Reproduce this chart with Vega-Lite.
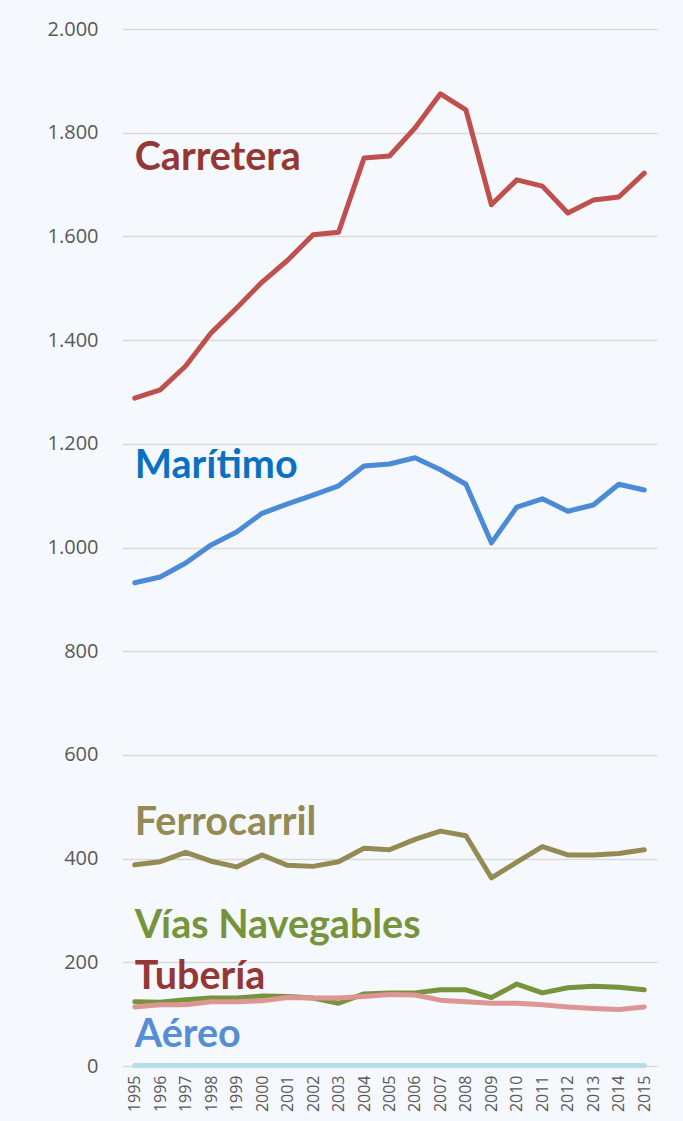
{
  "$schema": "https://vega.github.io/schema/vega-lite/v6.json",
  "autosize": {"type": "none"},
  "padding": {"left": 122, "top": 29, "right": 26, "bottom": 55},
  "width": 535,
  "height": 1037,
  "background": "#f5f8fc",
  "config": {
    "locale": {"number": {"decimal": ",", "thousands": ".", "grouping": [3], "currency": ["", " €"]}},
    "view": {"stroke": null},
    "font": "Open Sans"
  },
  "datasets": {
    "series": [
      {"year": 1995, "mode": "Carretera", "value": 1288},
      {"year": 1996, "mode": "Carretera", "value": 1304},
      {"year": 1997, "mode": "Carretera", "value": 1350},
      {"year": 1998, "mode": "Carretera", "value": 1414},
      {"year": 1999, "mode": "Carretera", "value": 1462},
      {"year": 2000, "mode": "Carretera", "value": 1512},
      {"year": 2001, "mode": "Carretera", "value": 1554},
      {"year": 2002, "mode": "Carretera", "value": 1603},
      {"year": 2003, "mode": "Carretera", "value": 1608},
      {"year": 2004, "mode": "Carretera", "value": 1751},
      {"year": 2005, "mode": "Carretera", "value": 1755},
      {"year": 2006, "mode": "Carretera", "value": 1809},
      {"year": 2007, "mode": "Carretera", "value": 1875},
      {"year": 2008, "mode": "Carretera", "value": 1844},
      {"year": 2009, "mode": "Carretera", "value": 1661},
      {"year": 2010, "mode": "Carretera", "value": 1709},
      {"year": 2011, "mode": "Carretera", "value": 1697},
      {"year": 2012, "mode": "Carretera", "value": 1645},
      {"year": 2013, "mode": "Carretera", "value": 1670},
      {"year": 2014, "mode": "Carretera", "value": 1676},
      {"year": 2015, "mode": "Carretera", "value": 1722},
      {"year": 1995, "mode": "Marítimo", "value": 932},
      {"year": 1996, "mode": "Marítimo", "value": 943},
      {"year": 1997, "mode": "Marítimo", "value": 970},
      {"year": 1998, "mode": "Marítimo", "value": 1005},
      {"year": 1999, "mode": "Marítimo", "value": 1030},
      {"year": 2000, "mode": "Marítimo", "value": 1066},
      {"year": 2001, "mode": "Marítimo", "value": 1084},
      {"year": 2002, "mode": "Marítimo", "value": 1101},
      {"year": 2003, "mode": "Marítimo", "value": 1119},
      {"year": 2004, "mode": "Marítimo", "value": 1157},
      {"year": 2005, "mode": "Marítimo", "value": 1161},
      {"year": 2006, "mode": "Marítimo", "value": 1173},
      {"year": 2007, "mode": "Marítimo", "value": 1150},
      {"year": 2008, "mode": "Marítimo", "value": 1122},
      {"year": 2009, "mode": "Marítimo", "value": 1009},
      {"year": 2010, "mode": "Marítimo", "value": 1078},
      {"year": 2011, "mode": "Marítimo", "value": 1094},
      {"year": 2012, "mode": "Marítimo", "value": 1070},
      {"year": 2013, "mode": "Marítimo", "value": 1082},
      {"year": 2014, "mode": "Marítimo", "value": 1122},
      {"year": 2015, "mode": "Marítimo", "value": 1111},
      {"year": 1995, "mode": "Ferrocarril", "value": 388},
      {"year": 1996, "mode": "Ferrocarril", "value": 394},
      {"year": 1997, "mode": "Ferrocarril", "value": 412},
      {"year": 1998, "mode": "Ferrocarril", "value": 395},
      {"year": 1999, "mode": "Ferrocarril", "value": 384},
      {"year": 2000, "mode": "Ferrocarril", "value": 407},
      {"year": 2001, "mode": "Ferrocarril", "value": 387},
      {"year": 2002, "mode": "Ferrocarril", "value": 385},
      {"year": 2003, "mode": "Ferrocarril", "value": 394},
      {"year": 2004, "mode": "Ferrocarril", "value": 420},
      {"year": 2005, "mode": "Ferrocarril", "value": 417},
      {"year": 2006, "mode": "Ferrocarril", "value": 437},
      {"year": 2007, "mode": "Ferrocarril", "value": 453},
      {"year": 2008, "mode": "Ferrocarril", "value": 444},
      {"year": 2009, "mode": "Ferrocarril", "value": 363},
      {"year": 2010, "mode": "Ferrocarril", "value": 393},
      {"year": 2011, "mode": "Ferrocarril", "value": 423},
      {"year": 2012, "mode": "Ferrocarril", "value": 407},
      {"year": 2013, "mode": "Ferrocarril", "value": 407},
      {"year": 2014, "mode": "Ferrocarril", "value": 410},
      {"year": 2015, "mode": "Ferrocarril", "value": 417},
      {"year": 1995, "mode": "Vías Navegables", "value": 124},
      {"year": 1996, "mode": "Vías Navegables", "value": 123},
      {"year": 1997, "mode": "Vías Navegables", "value": 128},
      {"year": 1998, "mode": "Vías Navegables", "value": 131},
      {"year": 1999, "mode": "Vías Navegables", "value": 131},
      {"year": 2000, "mode": "Vías Navegables", "value": 135},
      {"year": 2001, "mode": "Vías Navegables", "value": 134},
      {"year": 2002, "mode": "Vías Navegables", "value": 131},
      {"year": 2003, "mode": "Vías Navegables", "value": 121},
      {"year": 2004, "mode": "Vías Navegables", "value": 139},
      {"year": 2005, "mode": "Vías Navegables", "value": 141},
      {"year": 2006, "mode": "Vías Navegables", "value": 141},
      {"year": 2007, "mode": "Vías Navegables", "value": 147},
      {"year": 2008, "mode": "Vías Navegables", "value": 147},
      {"year": 2009, "mode": "Vías Navegables", "value": 132},
      {"year": 2010, "mode": "Vías Navegables", "value": 158},
      {"year": 2011, "mode": "Vías Navegables", "value": 141},
      {"year": 2012, "mode": "Vías Navegables", "value": 151},
      {"year": 2013, "mode": "Vías Navegables", "value": 154},
      {"year": 2014, "mode": "Vías Navegables", "value": 152},
      {"year": 2015, "mode": "Vías Navegables", "value": 147},
      {"year": 1995, "mode": "Tubería", "value": 114},
      {"year": 1996, "mode": "Tubería", "value": 118},
      {"year": 1997, "mode": "Tubería", "value": 118},
      {"year": 1998, "mode": "Tubería", "value": 124},
      {"year": 1999, "mode": "Tubería", "value": 124},
      {"year": 2000, "mode": "Tubería", "value": 126},
      {"year": 2001, "mode": "Tubería", "value": 132},
      {"year": 2002, "mode": "Tubería", "value": 131},
      {"year": 2003, "mode": "Tubería", "value": 131},
      {"year": 2004, "mode": "Tubería", "value": 134},
      {"year": 2005, "mode": "Tubería", "value": 138},
      {"year": 2006, "mode": "Tubería", "value": 137},
      {"year": 2007, "mode": "Tubería", "value": 127},
      {"year": 2008, "mode": "Tubería", "value": 124},
      {"year": 2009, "mode": "Tubería", "value": 121},
      {"year": 2010, "mode": "Tubería", "value": 121},
      {"year": 2011, "mode": "Tubería", "value": 118},
      {"year": 2012, "mode": "Tubería", "value": 114},
      {"year": 2013, "mode": "Tubería", "value": 111},
      {"year": 2014, "mode": "Tubería", "value": 109},
      {"year": 2015, "mode": "Tubería", "value": 114},
      {"year": 1995, "mode": "Aéreo", "value": 1},
      {"year": 1996, "mode": "Aéreo", "value": 1},
      {"year": 1997, "mode": "Aéreo", "value": 1},
      {"year": 1998, "mode": "Aéreo", "value": 1},
      {"year": 1999, "mode": "Aéreo", "value": 1},
      {"year": 2000, "mode": "Aéreo", "value": 1},
      {"year": 2001, "mode": "Aéreo", "value": 1},
      {"year": 2002, "mode": "Aéreo", "value": 1},
      {"year": 2003, "mode": "Aéreo", "value": 1},
      {"year": 2004, "mode": "Aéreo", "value": 1},
      {"year": 2005, "mode": "Aéreo", "value": 1},
      {"year": 2006, "mode": "Aéreo", "value": 1},
      {"year": 2007, "mode": "Aéreo", "value": 1},
      {"year": 2008, "mode": "Aéreo", "value": 1},
      {"year": 2009, "mode": "Aéreo", "value": 1},
      {"year": 2010, "mode": "Aéreo", "value": 1},
      {"year": 2011, "mode": "Aéreo", "value": 1},
      {"year": 2012, "mode": "Aéreo", "value": 1},
      {"year": 2013, "mode": "Aéreo", "value": 1},
      {"year": 2014, "mode": "Aéreo", "value": 1},
      {"year": 2015, "mode": "Aéreo", "value": 1}
    ],
    "labels": [
      {"year": 1995, "label": "Carretera", "value": 1751},
      {"year": 1995, "label": "Marítimo", "value": 1157},
      {"year": 1995, "label": "Ferrocarril", "value": 469},
      {"year": 1995, "label": "Vías Navegables", "value": 270},
      {"year": 1995, "label": "Tubería", "value": 172},
      {"year": 1995, "label": "Aéreo", "value": 60}
    ]
  },
  "resolve": {"scale": {"color": "independent"}},
  "encoding": {
    "x": {
      "field": "year",
      "type": "ordinal",
      "scale": {"type": "point", "padding": 0.5},
      "axis": {
        "title": null,
        "labelAngle": -90,
        "labelPadding": 9,
        "labelFont": "Open Sans",
        "labelFontSize": 16,
        "labelFontWeight": "normal",
        "labelColor": "#595959",
        "ticks": false,
        "domain": false,
        "grid": false
      }
    },
    "y": {
      "field": "value",
      "type": "quantitative",
      "scale": {"domain": [0, 2000], "nice": false},
      "axis": {
        "title": null,
        "values": [0, 200, 400, 600, 800, 1000, 1200, 1400, 1600, 1800, 2000],
        "format": ",d",
        "labelFont": "Open Sans",
        "labelFontSize": 20,
        "labelFontWeight": "normal",
        "labelColor": "#595959",
        "labelPadding": 24,
        "ticks": false,
        "domain": false,
        "gridColor": "#d9d9d9",
        "gridWidth": 1.5
      }
    }
  },
  "layer": [
    {
      "data": {"name": "series"},
      "mark": {"type": "line", "strokeWidth": 5, "strokeCap": "round", "strokeJoin": "round"},
      "encoding": {
        "color": {
          "field": "mode",
          "type": "nominal",
          "legend": null,
          "scale": {
            "domain": ["Carretera", "Marítimo", "Ferrocarril", "Vías Navegables", "Tubería", "Aéreo"],
            "range": ["#c0504d", "#4a8ad6", "#948a54", "#77933c", "#dd9693", "#b7dee8"]
          }
        }
      }
    },
    {
      "data": {"name": "labels"},
      "mark": {"type": "text", "align": "left", "baseline": "middle", "font": "Lato", "fontWeight": "bold", "fontSize": 39.5},
      "encoding": {
        "text": {"field": "label"},
        "color": {
          "field": "label",
          "type": "nominal",
          "legend": null,
          "scale": {
            "domain": ["Carretera", "Marítimo", "Ferrocarril", "Vías Navegables", "Tubería", "Aéreo"],
            "range": ["#953735", "#0a70c2", "#948a54", "#77933c", "#953735", "#558ed5"]
          }
        }
      }
    }
  ]
}
